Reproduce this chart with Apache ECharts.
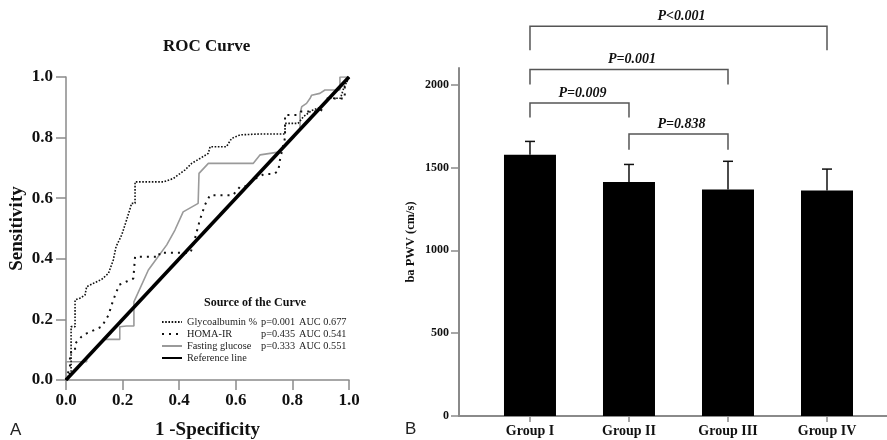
<!DOCTYPE html>
<html><head><meta charset="utf-8">
<script src="https://cdn.jsdelivr.net/npm/echarts@6/dist/echarts.min.js"></script>
<style>html,body{margin:0;padding:0;background:#fff}#c{width:887px;height:440px}</style>
</head><body><div id="c"></div>
<script>
// ---- Panel A: ROC curves (points as [1-specificity, sensitivity]) ----
const rocTicks = [0, 0.2, 0.4, 0.6, 0.8, 1.0];
const curveNames = ['Glycoalbumin %', 'HOMA-IR', 'Fasting glucose', 'Reference line'];
const pValues = ['p=0.001', 'p=0.435', 'p=0.333', ''];
const aucValues = ['AUC 0.677', 'AUC 0.541', 'AUC 0.551', ''];
const glycoCurve = [[0,0],[0.018,0.03],[0.018,0.176],[0.032,0.176],[0.032,0.264],[0.049,0.27],[0.067,0.28],[0.073,0.28],[0.073,0.308],[0.097,0.319],[0.126,0.332],[0.15,0.352],[0.167,0.396],[0.177,0.44],[0.197,0.479],[0.214,0.528],[0.232,0.583],[0.244,0.583],[0.244,0.654],[0.344,0.654],[0.379,0.665],[0.42,0.693],[0.444,0.715],[0.473,0.731],[0.503,0.748],[0.509,0.77],[0.567,0.77],[0.585,0.797],[0.615,0.809],[0.686,0.812],[0.774,0.812],[0.774,0.847],[0.82,0.847],[0.84,0.87],[0.87,0.89],[0.90,0.90],[0.93,0.93],[0.97,0.93],[0.98,0.96],[1,1]];
const homaCurve = [[0,0],[0.014,0.044],[0.014,0.09],[0.032,0.093],[0.032,0.12],[0.055,0.143],[0.073,0.154],[0.10,0.165],[0.126,0.176],[0.15,0.214],[0.167,0.264],[0.188,0.314],[0.214,0.325],[0.238,0.335],[0.244,0.335],[0.244,0.407],[0.33,0.407],[0.33,0.42],[0.44,0.42],[0.456,0.468],[0.473,0.528],[0.491,0.578],[0.509,0.61],[0.59,0.61],[0.615,0.638],[0.64,0.64],[0.66,0.66],[0.70,0.68],[0.735,0.68],[0.75,0.69],[0.756,0.726],[0.774,0.80],[0.774,0.875],[0.815,0.875],[0.83,0.886],[0.90,0.886],[0.92,0.929],[0.985,0.929],[0.985,0.974],[1,1]];
const glucoseCurve = [[0,0],[0,0.06],[0.073,0.06],[0.073,0.073],[0.134,0.134],[0.19,0.134],[0.19,0.176],[0.214,0.178],[0.24,0.178],[0.24,0.258],[0.291,0.363],[0.32,0.40],[0.356,0.446],[0.385,0.495],[0.414,0.555],[0.467,0.583],[0.47,0.682],[0.503,0.715],[0.662,0.715],[0.686,0.743],[0.756,0.753],[0.76,0.76],[0.827,0.827],[0.827,0.88],[0.833,0.902],[0.85,0.913],[0.862,0.929],[0.868,0.94],[0.897,0.946],[0.915,0.957],[0.968,0.957],[0.968,1.0],[1,1]];
const referenceLine = [[0,0],[1,1]];

// ---- Panel B: ba PWV by group ----
const groups = ['Group I', 'Group II', 'Group III', 'Group IV'];
const groupPos = [1, 2, 3, 4];
const pwvMean = [1577, 1412, 1367, 1361];
const pwvUpper = [1657, 1518, 1537, 1490];
const pwvTicks = [0, 500, 1000, 1500, 2000];
const cmpFrom = [1, 1, 1, 2];
const cmpTo = [4, 3, 2, 3];
const cmpLine = [2352, 2091, 1889, 1702];
const cmpLeg = [2207, 2000, 1801, 1607];
const cmpLabels = ['P<0.001', 'P=0.001', 'P=0.009', 'P=0.838'];

const SERIF = '"Liberation Serif", "DejaVu Serif", serif';
const SANS = '"Liberation Sans", Arial, sans-serif';
const AX = '#8a8a8a';

const chart = echarts.init(document.getElementById('c'), null, {renderer: 'canvas'});
const legendMap = {};
curveNames.forEach((n, i) => { legendMap[n] = i; });

chart.setOption({
  animation: false,
  backgroundColor: '#fff',
  grid: [
    {left: 66, top: 77, width: 283, height: 303, containLabel: false, outerBoundsMode: 'none'},
    {left: 459, top: 68, width: 428, height: 348, containLabel: false, outerBoundsMode: 'none'}
  ],
  xAxis: [
    {gridIndex: 0, type: 'value', min: 0, max: 1, interval: 0.2,
     axisLine: {show: true, lineStyle: {color: AX, width: 1.5}},
     axisTick: {show: true, length: 10, lineStyle: {color: AX, width: 1.5}},
     splitLine: {show: false},
     axisLabel: {margin: 12, formatter: v => v.toFixed(1), fontFamily: SERIF, fontWeight: 'bold', fontSize: 17, color: '#111'},
     name: '1 -Specificity', nameLocation: 'middle', nameGap: 41,
     nameTextStyle: {fontFamily: SERIF, fontWeight: 'bold', fontSize: 19, color: '#111'}},
    {gridIndex: 1, type: 'value', min: 0.283, max: 4.606,
     axisLine: {show: true, lineStyle: {color: AX, width: 2}},
     axisTick: {show: true, customValues: groupPos, length: 6, lineStyle: {color: AX, width: 1.5}},
     splitLine: {show: false},
     axisLabel: {customValues: groupPos, margin: 8, formatter: v => groups[Math.round(v) - 1] || '',
                 fontFamily: SERIF, fontWeight: 'bold', fontSize: 14, color: '#111'}}
  ],
  yAxis: [
    {gridIndex: 0, type: 'value', min: 0, max: 1, interval: 0.2,
     axisLine: {show: true, lineStyle: {color: AX, width: 1.5}},
     axisTick: {show: true, length: 10, lineStyle: {color: AX, width: 1.5}},
     splitLine: {show: false},
     axisLabel: {margin: 13, formatter: v => v.toFixed(1), fontFamily: SERIF, fontWeight: 'bold', fontSize: 17, color: '#111'},
     name: 'Sensitivity', nameLocation: 'middle', nameGap: 39,
     nameTextStyle: {fontFamily: SERIF, fontWeight: 'bold', fontSize: 19, color: '#111'}},
    {gridIndex: 1, type: 'value', min: 0, max: 2100,
     axisLine: {show: true, lineStyle: {color: AX, width: 2}},
     axisTick: {show: true, customValues: pwvTicks, length: 8, lineStyle: {color: AX, width: 1.5}},
     splitLine: {show: false},
     axisLabel: {customValues: pwvTicks, margin: 10, formatter: v => String(v),
                 fontFamily: SERIF, fontWeight: 'bold', fontSize: 12, color: '#111'},
     name: 'ba PWV (cm/s)', nameLocation: 'middle', nameGap: 42,
     nameTextStyle: {fontFamily: SERIF, fontWeight: 'bold', fontSize: 12.5, color: '#111'}}
  ],
  legend: {
    orient: 'vertical', left: 161, top: 317, padding: 0, itemWidth: 20, itemHeight: 11, itemGap: 2,
    data: curveNames,
    itemStyle: {opacity: 0},
    formatter: name => {
      const i = legendMap[name];
      return pValues[i] ? `{n|${name}}{p|${pValues[i]}}{a|${aucValues[i]}}` : `{n|${name}}`;
    },
    textStyle: {fontFamily: SERIF, fontSize: 10.3, color: '#222',
      rich: {n: {width: 74, fontFamily: SERIF, fontSize: 10.3, color: '#222'},
             p: {width: 38, fontFamily: SERIF, fontSize: 10.3, color: '#222'},
             a: {fontFamily: SERIF, fontSize: 10.3, color: '#222'}}}
  },
  graphic: [
    {type: 'text', left: 207 - 44, top: 38, style: {text: 'ROC Curve', font: 'bold 17px ' + SERIF, fill: '#111'}},
    {type: 'text', x: 255, y: 303, style: {text: 'Source of the Curve', font: 'bold 12px ' + SERIF, fill: '#111', align: 'center', verticalAlign: 'middle'}},
    {type: 'text', x: 10, y: 430, style: {text: 'A', font: '17px ' + SANS, fill: '#222', verticalAlign: 'middle'}},
    {type: 'text', x: 405, y: 429, style: {text: 'B', font: '17px ' + SANS, fill: '#222', verticalAlign: 'middle'}}
  ],
  series: [
    {name: curveNames[0], type: 'line', xAxisIndex: 0, yAxisIndex: 0, data: glycoCurve, symbol: 'none', z: 3,
     lineStyle: {color: '#111', width: 1.6, type: [1.6, 1.6]}, itemStyle: {color: '#111'}},
    {name: curveNames[1], type: 'line', xAxisIndex: 0, yAxisIndex: 0, data: homaCurve, symbol: 'none', z: 3,
     lineStyle: {color: '#111', width: 2, type: [2, 5]}, itemStyle: {color: '#111'}},
    {name: curveNames[2], type: 'line', xAxisIndex: 0, yAxisIndex: 0, data: glucoseCurve, symbol: 'none', z: 2,
     lineStyle: {color: '#9a9a9a', width: 1.6}, itemStyle: {color: '#9a9a9a'}},
    {name: curveNames[3], type: 'line', xAxisIndex: 0, yAxisIndex: 0, data: referenceLine, symbol: 'none', z: 4,
     lineStyle: {color: '#000', width: 3.5}, itemStyle: {color: '#000'}},
    {name: 'ba PWV', type: 'bar', xAxisIndex: 1, yAxisIndex: 1, barWidth: 52,
     data: groupPos.map((x, i) => [x, pwvMean[i]]), itemStyle: {color: '#000'}},
    {name: 'SD', type: 'custom', xAxisIndex: 1, yAxisIndex: 1,
     data: groupPos.map((x, i) => [x, pwvMean[i], pwvUpper[i]]),
     encode: {x: 0, y: [1, 2]},
     renderItem: (params, api) => {
       const p0 = api.coord([api.value(0), api.value(1)]);
       const p1 = api.coord([api.value(0), api.value(2)]);
       const st = {stroke: '#111', lineWidth: 1.5};
       return {type: 'group', children: [
         {type: 'line', shape: {x1: p0[0], y1: p0[1], x2: p1[0], y2: p1[1]}, style: st},
         {type: 'line', shape: {x1: p1[0] - 5, y1: p1[1], x2: p1[0] + 5, y2: p1[1]}, style: st}
       ]};
     }},
    {name: 'compare', type: 'custom', xAxisIndex: 1, yAxisIndex: 1, clip: false,
     data: cmpFrom.map((f, i) => [f, cmpTo[i], cmpLine[i], cmpLeg[i], i]),
     encode: {x: [0, 1], y: [2, 3]},
     renderItem: (params, api) => {
       const a = api.coord([api.value(0), api.value(2)]);
       const b = api.coord([api.value(1), api.value(2)]);
       const aL = api.coord([api.value(0), api.value(3)]);
       const bL = api.coord([api.value(1), api.value(3)]);
       const st = {stroke: '#555', lineWidth: 1.5, fill: null};
       return {type: 'group', children: [
         {type: 'polyline', shape: {points: [aL, a, b, bL]}, style: st},
         {type: 'text', style: {text: cmpLabels[api.value(4)], x: (a[0] + b[0]) / 2 + 3, y: a[1] - 10,
           align: 'center', verticalAlign: 'middle', font: 'italic bold 14px ' + SERIF, fill: '#111'}}
       ]};
     }}
  ]
});
</script></body></html>
